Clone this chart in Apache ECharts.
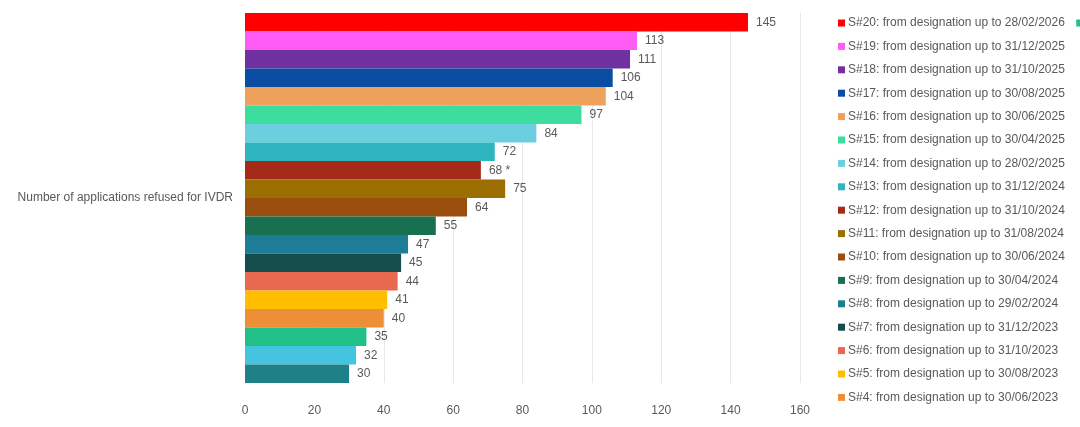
<!DOCTYPE html>
<html>
<head>
<meta charset="utf-8">
<script src="https://cdn.jsdelivr.net/npm/echarts@6/dist/echarts.min.js"></script>
<style>html,body{margin:0;background:#fff}#chart{width:1080px;height:427px}</style>
</head>
<body>
<div id="chart"></div>
<script>
// 数据
var category = ['Number of applications refused for IVDR'];
var seriesNames = [
    'S#20: from designation up to 28/02/2026',
    'S#19: from designation up to 31/12/2025',
    'S#18: from designation up to 31/10/2025',
    'S#17: from designation up to 30/08/2025',
    'S#16: from designation up to 30/06/2025',
    'S#15: from designation up to 30/04/2025',
    'S#14: from designation up to 28/02/2025',
    'S#13: from designation up to 31/12/2024',
    'S#12: from designation up to 31/10/2024',
    'S#11: from designation up to 31/08/2024',
    'S#10: from designation up to 30/06/2024',
    'S#9: from designation up to 30/04/2024',
    'S#8: from designation up to 29/02/2024',
    'S#7: from designation up to 31/12/2023',
    'S#6: from designation up to 31/10/2023',
    'S#5: from designation up to 30/08/2023',
    'S#4: from designation up to 30/06/2023',
    'S#3: from designation up to 31/05/2023',
    'S#2: from designation up to 30/04/2023',
    'S#1: from designation up to 28/02/2023'
];
var values = [145, 113, 111, 106, 104, 97, 84, 72, 68, 75, 64, 55, 47, 45, 44, 41, 40, 35, 32, 30];
var labelSuffix = ['', '', '', '', '', '', '', '', ' *', '', '', '', '', '', '', '', '', '', '', ''];
var colors = ['#ff0000', '#ff5cf5', '#7030a0', '#0a4da2', '#eea15c', '#3ddc9f', '#6ccfe0', '#2eb5c0',
    '#a52a1a', '#9a6e00', '#9a4e0e', '#17704f', '#1e7d96', '#154c4c', '#e8694f', '#ffbf00',
    '#ec8f37', '#20c088', '#45c4e0', '#1f8087'];

var myChart = echarts.init(document.getElementById('chart'));

var series = seriesNames.map(function (name, i) {
    return {
        name: name,
        type: 'bar',
        data: [values[i]],
        barGap: '0%',
        barCategoryGap: '0%',
        itemStyle: { color: colors[i] },
        label: {
            show: true,
            position: 'right',
            distance: 8,
            color: '#595959',
            fontSize: 12,
            formatter: function (p) { return p.value + labelSuffix[i]; }
        }
    };
});

var option = {
    animation: false,
    textStyle: { fontFamily: 'Liberation Sans, Arial, sans-serif' },
    grid: { left: 245, right: 280, top: 13, bottom: 44 },
    legend: {
        orient: 'vertical',
        left: 833,
        top: 12,
        itemWidth: 7,
        itemHeight: 7,
        itemGap: 11.4,
        icon: 'rect',
        data: seriesNames.slice(0, 18),
        textStyle: { color: '#595959', fontSize: 12, padding: [0, 0, 0, -2] }
    },
    xAxis: {
        type: 'value',
        min: 0,
        max: 160,
        interval: 20,
        axisLabel: { color: '#595959', fontSize: 12, margin: 22 },
        splitLine: { lineStyle: { color: '#e8e8e8' } },
        axisLine: { show: false },
        axisTick: { show: false }
    },
    yAxis: {
        type: 'category',
        inverse: true,
        data: category,
        axisLabel: { color: '#595959', fontSize: 12, margin: 12 },
        axisLine: { lineStyle: { color: '#d9d9d9' } },
        axisTick: { show: false }
    },
    series: series
};

myChart.setOption(option);
</script>
</body>
</html>
